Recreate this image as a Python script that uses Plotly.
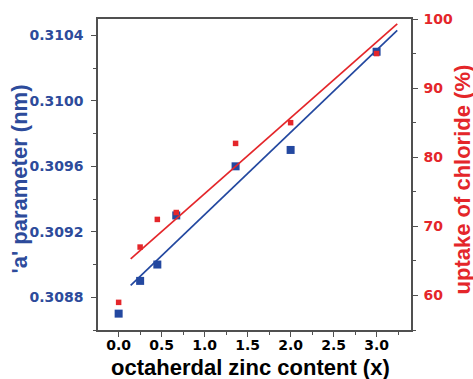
import numpy as np
import plotly.graph_objects as go

# ---- data ----
zinc_x = [0.0, 0.25, 0.45, 0.67, 1.36, 2.0, 3.0]
a_param = [0.3087, 0.3089, 0.3090, 0.3093, 0.3096, 0.3097, 0.3103]
chloride_uptake = [59, 67, 71, 72, 82, 85, 95]
fit_x_span = [0.14, 3.24]

x_ticks = [0.0, 0.5, 1.0, 1.5, 2.0, 2.5, 3.0]
x_ticklabels = ["0.0", "0.5", "1.0", "1.5", "2.0", "2.5", "3.0"]
left_ticks = [0.3088, 0.3092, 0.3096, 0.3100, 0.3104]
left_ticklabels = ["0.3088", "0.3092", "0.3096", "0.3100", "0.3104"]
right_ticks = [60, 70, 80, 90, 100]
right_ticklabels = ["60", "70", "80", "90", "100"]

BLUE = "rgb(35,72,160)"
BLUE_TXT = "rgb(45,75,155)"
RED = "rgb(228,38,42)"
AXC = "rgb(80,80,80)"

# linear fits of the data
bfit = np.polyfit(zinc_x, a_param, 1)
rfit = np.polyfit(zinc_x, chloride_uptake, 1)
fx = np.array(fit_x_span)

fig = go.Figure()
fig.add_trace(go.Scatter(x=fx, y=np.polyval(bfit, fx), mode="lines",
                         line=dict(color=BLUE, width=1.7), yaxis="y", showlegend=False))
fig.add_trace(go.Scatter(x=fx, y=np.polyval(rfit, fx), mode="lines",
                         line=dict(color=RED, width=1.7), yaxis="y2", showlegend=False))
fig.add_trace(go.Scatter(x=zinc_x, y=a_param, mode="markers",
                         marker=dict(symbol="square", size=8, color=BLUE), yaxis="y", showlegend=False))
fig.add_trace(go.Scatter(x=zinc_x, y=chloride_uptake, mode="markers",
                         marker=dict(symbol="square", size=5.5, color=RED), yaxis="y2", showlegend=False))

tickfont = dict(family="DejaVu Sans", size=14, weight="bold")
titlefont = dict(family="Liberation Sans", size=22, weight="bold")

fig.update_layout(
    width=473, height=379,
    margin=dict(l=98, r=62, t=19, b=49),
    paper_bgcolor="white", plot_bgcolor="white",
    xaxis=dict(range=[-0.24, 3.40], tickvals=x_ticks, ticktext=x_ticklabels,
               showgrid=False, zeroline=False, showline=True, mirror=True,
               linecolor=AXC, linewidth=1.5, ticks="outside", ticklen=5, tickwidth=1.2,
               tickcolor=AXC, tickfont=dict(tickfont, color="black"), ticklabelstandoff=-4,
               minor=dict(dtick=0.25, tick0=0, ticks="outside", ticklen=3, tickcolor=AXC, tickwidth=1.2)),
    yaxis=dict(range=[0.3086, 0.31050], tickvals=left_ticks, ticktext=left_ticklabels,
               showgrid=False, zeroline=False, showline=True,
               linecolor=AXC, linewidth=1.5, ticks="outside", ticklen=5, tickwidth=1.2,
               tickcolor=AXC, tickfont=dict(tickfont, color=BLUE_TXT), ticklabelstandoff=5,
               minor=dict(dtick=0.0002, tick0=0.3088, ticks="outside", ticklen=3, tickcolor=AXC, tickwidth=1.2)),
    yaxis2=dict(range=[55, 100], tickvals=right_ticks, ticktext=right_ticklabels,
                overlaying="y", side="right", anchor="x",
                showgrid=False, zeroline=False, showline=True,
                linecolor=AXC, linewidth=1.5, ticks="outside", ticklen=5, tickwidth=1.2,
                tickcolor=AXC, tickfont=dict(tickfont, color=RED), ticklabelstandoff=3,
                minor=dict(dtick=5, tick0=0, ticks="outside", ticklen=3, tickcolor=AXC, tickwidth=1.2)),
    annotations=[
        dict(text="octaherdal zinc content (x)", xref="paper", yref="paper", x=0.5, y=0,
             xshift=-4, yshift=-23, xanchor="center", yanchor="top", showarrow=False,
             font=dict(titlefont, color="black")),
        dict(text="'a' parameter (nm)", xref="paper", yref="paper", x=0, y=0.5,
             xshift=-79, yshift=-5, xanchor="center", yanchor="middle", textangle=-90,
             showarrow=False, font=dict(titlefont, color=BLUE_TXT)),
        dict(text="uptake of chloride (%)", xref="paper", yref="paper", x=1, y=0.5,
             xshift=51, yshift=-5, xanchor="center", yanchor="middle", textangle=-90,
             showarrow=False, font=dict(titlefont, color=RED)),
    ],
)

fig.write_html("out.html", config={"displayModeBar": False},
               post_script="document.body.style.margin='0';")
